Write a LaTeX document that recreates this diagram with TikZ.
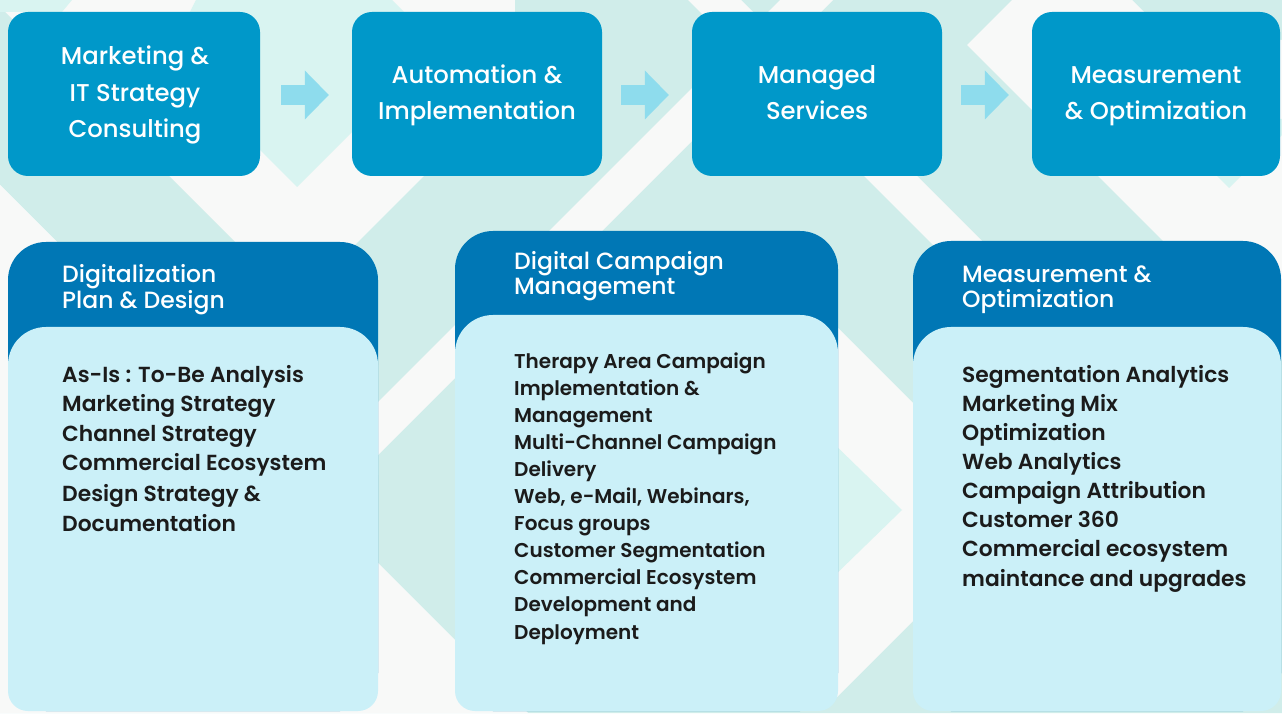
\documentclass[tikz,border=0pt]{standalone}
\usepackage{fontspec}
\setmainfont{Poppins}
\newfontfamily\pmed{Poppins Medium}
\newfontfamily\psemi{Poppins SemiBold}
\usetikzlibrary{arrows.meta}
\definecolor{bgw}{HTML}{F8F9F8}
\definecolor{teal}{HTML}{D0EDEA}
\definecolor{lteal}{HTML}{D9F4F1}
\definecolor{topc}{HTML}{0098C9}
\definecolor{hdrc}{HTML}{0077B5}
\definecolor{bodyc}{HTML}{CBF0F8}
\definecolor{arrc}{HTML}{8EDCED}
\definecolor{txtc}{HTML}{1B1B1B}
\tikzset{
  topbox/.style={fill=topc, rounded corners=20pt, minimum height=164pt, inner sep=0pt},
  toptext/.style={inner sep=0pt, text=white, font=\pmed\fontsize{24.3}{36.5}\selectfont, align=center, anchor=base},
  flowarrow/.style={draw=arrc, line width=20pt, -{Triangle[length=24pt,width=49pt,line width=0pt]}},
  hdtext/.style={inner sep=0pt, text=white, align=left, anchor=base west},
  bdtext/.style={inner sep=0pt, text=txtc, align=left, anchor=base west},
}
\begin{document}
\begin{tikzpicture}[x=1pt,y=1pt]
\useasboundingbox (0,0) rectangle (1282,713);
% background
\fill[bgw] (0,0) rectangle (1282,713);
\fill[teal] (0,706) -- (300,406) -- (300,228) -- (0,528) -- cycle;
\fill[lteal] (0,713) -- (72,713) -- (62,701) -- (0,701) -- cycle;
\fill[lteal] (196,713) -- (392,713) -- (404,701) -- (472,701) -- (297,526) -- (160,663) -- (190,701) -- cycle;
\fill[teal] (515,713) -- (1282,713) -- (1282,0) -- (0,0) -- (0,113) -- (427,540) -- (588,701) -- (515,701) -- cycle;
\fill[bgw] (780,713) -- (833,713) -- (120,0) -- (67,0) -- cycle;
\fill[bgw] (0,528) -- (528,0) -- (0,0) -- cycle;
\fill[bgw] (688,713) -- (741,713) -- (1041,413) -- (988,413) -- cycle;
\fill[bgw] (830,393) -- (920,303) -- (920,99) -- (830,9) -- cycle;
\fill[lteal] (830,273) -- (830,133) -- (902,203) -- cycle;
\fill[bgw] (1012,713) -- (1132,713) -- (1172,673) -- (1282,673) -- (1282,353) -- (967,668) -- cycle;
\fill[lteal] (1229,525) -- (1160,594) -- (1298,594) -- cycle;
% top row
\node[topbox, minimum width=252pt] (b1) at (134,619) {};
\node[topbox, minimum width=250pt] (b2) at (477,619) {};
\node[topbox, minimum width=250pt] (b3) at (817,619) {};
\node[topbox, minimum width=248pt] (b4) at (1156,619) {};
\node[toptext] (b1t) at (135,575) {Marketing \&\\IT Strategy\\Consulting};
\node[toptext] (b2t) at (477,593) {Automation \&\\Implementation};
\node[toptext] (b3t) at (817,593) {Managed\\Services};
\node[toptext] (b4t) at (1156,593) {Measurement\\\& Optimization};
\draw[flowarrow] ([xshift=21pt,yshift=-1pt]b1.east) -- ([xshift=-23pt,yshift=-1pt]b2.west);
\draw[flowarrow] ([xshift=19pt,yshift=-1pt]b2.east) -- ([xshift=-23pt,yshift=-1pt]b3.west);
\draw[flowarrow] ([xshift=19pt,yshift=-1pt]b3.east) -- ([xshift=-23pt,yshift=-1pt]b4.west);
% card 1
\fill[hdrc, rounded corners=38pt] (8,2) rectangle (378,471);
\fill[bodyc, rounded corners=38pt] (8,200) rectangle (378,386);
\fill[bodyc, rounded corners=20pt] (8,2) rectangle (378,300);
% card 2
\fill[hdrc, rounded corners=38pt] (455,2) rectangle (838,482);
\fill[bodyc, rounded corners=38pt] (455,200) rectangle (838,398);
\fill[bodyc, rounded corners=20pt] (455,2) rectangle (838,300);
% card 3
\fill[hdrc, rounded corners=38pt] (913,2) rectangle (1281,472);
\fill[bodyc, rounded corners=38pt] (913,200) rectangle (1281,386);
\fill[bodyc, rounded corners=20pt] (913,2) rectangle (1281,300);
% card texts
\node[hdtext, font=\pmed\fontsize{23.5}{26}\selectfont] (h1) at (62,404) {Digitalization\\Plan \& Design};
\node[bdtext, font=\psemi\fontsize{21.8}{29.5}\selectfont] (t1) at (62,182) {As-Is : To-Be Analysis\\Marketing Strategy\\Channel Strategy\\Commercial Ecosystem\\[1.5pt]Design Strategy \&\\Documentation};
\node[hdtext, font=\pmed\fontsize{23.5}{25.5}\selectfont] (h2) at (514,418) {Digital Campaign\\Management};
\node[bdtext, font=\psemi\fontsize{20}{27.1}\selectfont] (t2) at (514,74) {Therapy Area Campaign\\Implementation \&\\Management\\Multi-Channel Campaign\\Delivery\\Web, e-Mail, Webinars,\\Focus groups\\Customer Segmentation\\Commercial Ecosystem\\Development and\\Deployment};
\node[hdtext, font=\pmed\fontsize{23.5}{25.5}\selectfont] (h3) at (962,405) {Measurement \&\\Optimization};
\node[bdtext, font=\psemi\fontsize{21.8}{29.1}\selectfont] (t3) at (962,127) {Segmentation Analytics\\Marketing Mix\\Optimization\\Web Analytics\\Campaign Attribution\\Customer 360\\Commercial ecosystem\\maintance and upgrades};
\end{tikzpicture}
\end{document}
